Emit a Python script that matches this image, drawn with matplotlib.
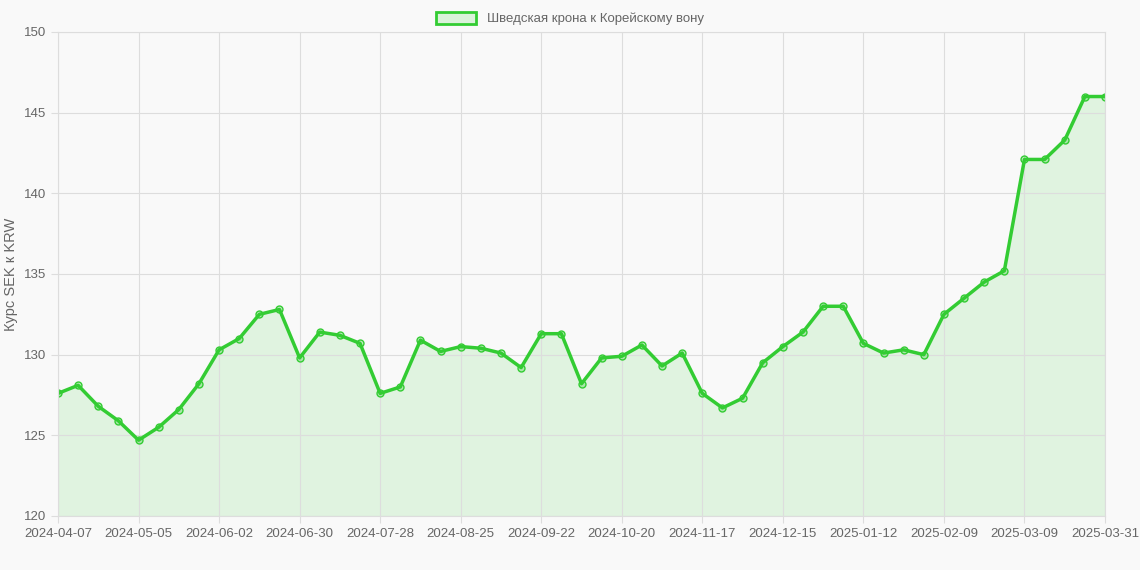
import matplotlib
matplotlib.use("Agg")
import matplotlib.pyplot as plt
import matplotlib.patches as mpatches
import pandas as pd

plt.rcParams['font.family'] = ['Liberation Sans', 'DejaVu Sans']

dates = [d.strftime("%Y-%m-%d") for d in pd.date_range("2024-04-07", periods=52, freq="7D")] + ["2025-03-31"]
values = [127.6,128.1,126.8,125.9,124.7,125.5,126.6,128.2,130.3,131.0,132.5,132.8,129.8,131.4,131.2,130.7,
          127.6,128.0,130.9,130.2,130.5,130.4,130.1,129.2,131.3,131.3,128.2,129.8,129.9,130.6,129.3,130.1,
          127.6,126.7,127.3,129.5,130.5,131.4,133.0,133.0,130.7,130.1,130.3,130.0,132.5,133.5,134.5,135.2,
          142.1,142.1,143.3,146.0,146.0]
label = "Шведская крона к Корейскому вону"
green = "#33cc33"

fig = plt.figure(figsize=(11.4, 5.7), dpi=100, facecolor="#f9f9f9")
ax = fig.add_axes([58/1140, 54/570, (1105-58)/1140, (516-32)/570], facecolor="#f9f9f9")
x = list(range(len(values)))
ax.fill_between(x, values, 120, color=green, alpha=0.12, linewidth=0)
ax.plot(x, values, color=green, lw=2.5, marker="o", ms=5, mfc=(0.2, 0.8, 0.2, 0.3), mec=green, mew=1)
ax.set_xlim(0, len(values)-1)
ax.set_ylim(120, 150)
ticks = list(range(0, len(values), 4))
ax.set_xticks(ticks)
ax.set_xticklabels([dates[i] for i in ticks])
ax.set_yticks(range(120, 151, 5))
ax.grid(True, color="#dddddd", lw=0.8)
for s in ax.spines.values():
    s.set_color("#dddddd")
ax.tick_params(colors="#666666", labelsize=9.5, length=5, color="#dddddd")
ax.set_ylabel("Курс SEK к KRW", color="#666666", fontsize=10.5)
h = mpatches.Patch(facecolor=(0.2, 0.8, 0.2, 0.15), edgecolor=green, lw=2)
fig.legend([h], [label], loc="upper center", bbox_to_anchor=(0.5, 1.0), frameon=False,
           fontsize=9.5, labelcolor="#666666", handlelength=3, handleheight=1)
fig.savefig("out.png", dpi=100, facecolor=fig.get_facecolor())
